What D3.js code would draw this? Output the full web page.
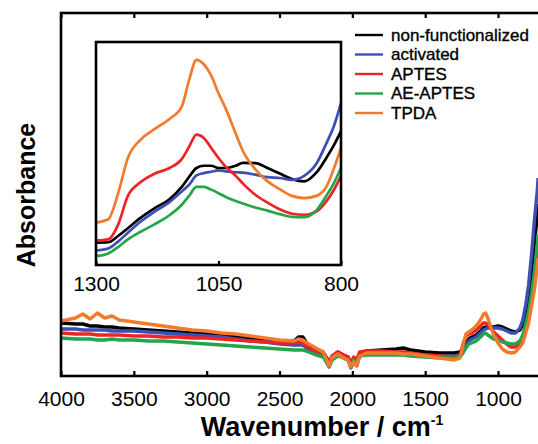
<!DOCTYPE html>
<html>
<head>
<meta charset="utf-8">
<script src="https://cdn.jsdelivr.net/npm/d3@7"></script>
<style>
  html, body { margin: 0; padding: 0; background: #fff; }
  svg { display: block; font-family: "Liberation Sans", Arial, Helvetica, sans-serif; }
</style>
</head>
<body>
<svg id="chart" width="538" height="444"></svg>
<script>
// ---- Series ----
const seriesNames = ["non-functionalized", "activated", "APTES", "AE-APTES", "TPDA"];
const seriesColors = ["#000000", "#3d4fb4", "#ec2524", "#22a64a", "#f47a2b"];

// ---- Full spectrum (absorbance, x10^-3 arbitrary offset) ----
const mainWavenumbers = [4000, 3900, 3850, 3800, 3750, 3700, 3650, 3600, 3500, 3400, 3300, 3200, 3100, 3000,
  2900, 2800, 2700, 2600, 2500, 2400, 2370, 2340, 2300, 2250, 2200, 2160, 2140, 2100, 2060, 2030, 2010, 1990,
  1970, 1950, 1900, 1800, 1700, 1650, 1600, 1500, 1400, 1300, 1260, 1240, 1220, 1200, 1180, 1150, 1120, 1100,
  1085, 1070, 1050, 1030, 1000, 970, 940, 910, 880, 850, 830, 810, 790, 770, 750, 730, 725];

const mainNonFunctionalized = [53, 52, 52, 50, 50, 49, 49, 48, 47, 46, 45, 44, 43, 42,
  41, 39, 38, 37, 35, 35, 39, 39, 30, 27, 24, 14, 19, 24, 21, 19, 12, 18,
  15, 23, 25, 26, 27, 28, 26, 24, 23, 23, 24, 28, 33, 37, 39, 41, 45, 48,
  49, 49, 49, 49, 50, 49, 47, 45, 44, 46, 51, 63, 78, 106, 133, 161, 172];

const mainActivated = [47, 47, 46, 46, 46, 46, 45, 45, 45, 44, 43, 42, 41, 40,
  39, 37, 35, 34, 32, 31, 31, 31, 26, 23, 20, 9, 16, 21, 18, 16, 8, 14,
  10, 20, 22, 23, 23, 23, 22, 21, 20, 20, 21, 25, 30, 35, 37, 39, 43, 46,
  47, 48, 48, 48, 48, 47, 45, 43, 43, 48, 56, 71, 91, 121, 156, 186, 198];

const mainAPTES = [43, 42, 42, 42, 41, 41, 41, 41, 40, 40, 39, 39, 38, 38,
  37, 36, 35, 34, 33, 33, 34, 33, 28, 25, 23, 14, 20, 24, 21, 19, 12, 19,
  16, 24, 25, 25, 24, 24, 23, 21, 20, 19, 21, 32, 40, 42, 43, 46, 50, 53,
  53, 51, 48, 44, 40, 36, 32, 29, 29, 32, 37, 47, 58, 76, 94, 118, 126];

const mainAEAPTES = [38, 37, 37, 37, 36, 36, 37, 36, 36, 35, 35, 34, 33, 32,
  31, 30, 29, 28, 27, 26, 26, 26, 24, 21, 19, 10, 16, 20, 18, 16, 10, 16,
  13, 20, 21, 21, 21, 21, 20, 19, 18, 18, 19, 23, 28, 32, 33, 35, 39, 42,
  43, 41, 39, 37, 36, 34, 33, 32, 32, 35, 41, 52, 65, 83, 104, 133, 142];

const mainTPDA = [55, 58, 62, 57, 63, 58, 60, 56, 54, 52, 50, 48, 46, 45,
  43, 42, 40, 38, 36, 35, 37, 36, 32, 28, 24, 10, 18, 22, 18, 16, 9, 14,
  10, 20, 23, 23, 23, 22, 22, 20, 18, 16, 18, 31, 42, 44, 46, 50, 56, 62,
  63, 58, 49, 41, 33, 27, 24, 23, 24, 29, 33, 43, 53, 70, 86, 111, 118];

const mainTicks = [4000, 3500, 3000, 2500, 2000, 1500, 1000];

// ---- Inset: 1300-800 cm-1 region (normalized absorbance) ----
const insetWavenumbers = [1300, 1275, 1255, 1235, 1210, 1180, 1150, 1125, 1110, 1095, 1080, 1065, 1050,
  1035, 1015, 1000, 975, 950, 925, 900, 875, 850, 830, 815, 800];

const insetNonFunctionalized = [10, 10.2, 13, 16.5, 21, 25.5, 29.5, 35, 39.5, 43.5, 44.5, 44.5, 43.5,
  43.5, 44.5, 45.8, 45.7, 43.5, 41, 38.5, 37.5, 41.5, 48, 53.5, 60];
const insetActivated = [6.5, 7.4, 10.5, 14.5, 19.3, 24, 28.2, 33, 36, 40.2, 41.2, 41.8, 42.4,
  42, 41.6, 41.4, 40.5, 39.4, 39, 38.2, 40, 45.5, 54.5, 62, 72.6];
const insetAPTES = [11, 11.5, 18, 31, 37, 41, 43.5, 47.5, 53, 58.5, 57, 52.5, 48,
  44, 40, 36.5, 31.5, 28, 25, 23, 22.5, 24, 28.5, 33.5, 40];
const insetAEAPTES = [4, 5.2, 8, 11.5, 14.8, 18.3, 22.3, 27, 31, 35, 35, 33.8, 32.2,
  30.5, 28.7, 27.6, 25.8, 24.4, 22.8, 21.6, 21.5, 24.5, 31, 36.5, 43.5];
const insetTPDA = [19, 20.5, 32, 48, 56, 61, 65.5, 71, 83, 92, 90, 85, 77,
  70, 59, 51, 43, 37.5, 34, 31, 30, 31, 35, 43, 52.5];

const insetTicks = [1300, 1050, 800];

const mainSeries = [mainNonFunctionalized, mainActivated, mainAPTES, mainAEAPTES, mainTPDA];
const insetSeries = [insetNonFunctionalized, insetActivated, insetAPTES, insetAEAPTES, insetTPDA];

// ---- Layout ----
const svg = d3.select("#chart");
svg.append("rect").attr("width", 538).attr("height", 444).attr("fill", "#fff");

const plot = { left: 61, right: 549, top: 13, bottom: 376 };
const x = d3.scaleLinear().domain([4000, 650]).range([plot.left, plot.right]);
const y = d3.scaleLinear().domain([0, 363]).range([plot.bottom, plot.top]);

const inset = { left: 96, right: 341, top: 42, bottom: 265 };
const xi = d3.scaleLinear().domain([1300, 800]).range([inset.left, inset.right]);
const yi = d3.scaleLinear().domain([0, 100]).range([inset.bottom, inset.top]);

const defs = svg.append("defs");
defs.append("clipPath").attr("id", "clip-main").append("rect")
  .attr("x", plot.left).attr("y", plot.top)
  .attr("width", plot.right - plot.left).attr("height", plot.bottom - plot.top);
defs.append("clipPath").attr("id", "clip-inset").append("rect")
  .attr("x", inset.left).attr("y", inset.top)
  .attr("width", inset.right - inset.left).attr("height", inset.bottom - inset.top);

// ---- Main spectra ----
const mainLine = d3.line().x((d, i) => x(mainWavenumbers[i])).y(d => y(d));
svg.append("g").attr("clip-path", "url(#clip-main)")
  .selectAll("path").data(mainSeries).join("path")
  .attr("d", mainLine)
  .attr("fill", "none")
  .attr("stroke", (d, i) => seriesColors[i])
  .attr("stroke-width", 3.4)
  .attr("stroke-linejoin", "round");

// ---- Main frame and axes ----
svg.append("rect")
  .attr("x", plot.left).attr("y", plot.top)
  .attr("width", plot.right - plot.left).attr("height", plot.bottom - plot.top)
  .attr("fill", "none").attr("stroke", "#000").attr("stroke-width", 2.6);

const xAxis = svg.append("g").attr("transform", `translate(0,${plot.bottom})`)
  .call(d3.axisBottom(x).tickValues(mainTicks).tickFormat(d3.format("d"))
    .tickSizeInner(-5).tickSizeOuter(0).tickPadding(15));
xAxis.select(".domain").remove();
xAxis.selectAll(".tick line").attr("stroke-width", 2.2);
xAxis.selectAll(".tick text").attr("font-size", 21).attr("fill", "#000")
  .attr("font-family", "'Liberation Sans', Arial, sans-serif");

const xAxisTop = svg.append("g").attr("transform", `translate(0,${plot.top})`)
  .call(d3.axisTop(x).tickValues(mainTicks).tickFormat("").tickSizeInner(-5).tickSizeOuter(0));
xAxisTop.select(".domain").remove();
xAxisTop.selectAll(".tick line").attr("stroke-width", 2.2);

// ---- Inset ----
svg.append("rect")
  .attr("x", inset.left).attr("y", inset.top)
  .attr("width", inset.right - inset.left).attr("height", inset.bottom - inset.top)
  .attr("fill", "#fff");

const insetLine = d3.line().x((d, i) => xi(insetWavenumbers[i])).y(d => yi(d)).curve(d3.curveMonotoneX);
svg.append("g").attr("clip-path", "url(#clip-inset)")
  .selectAll("path").data(insetSeries).join("path")
  .attr("d", insetLine)
  .attr("fill", "none")
  .attr("stroke", (d, i) => seriesColors[i])
  .attr("stroke-width", 2.7)
  .attr("stroke-linejoin", "round");

svg.append("rect")
  .attr("x", inset.left).attr("y", inset.top)
  .attr("width", inset.right - inset.left).attr("height", inset.bottom - inset.top)
  .attr("fill", "none").attr("stroke", "#000").attr("stroke-width", 2.6);

const xiAxis = svg.append("g").attr("transform", `translate(0,${inset.bottom})`)
  .call(d3.axisBottom(xi).tickValues(insetTicks).tickFormat(d3.format("d"))
    .tickSizeInner(-4).tickSizeOuter(0).tickPadding(11));
xiAxis.select(".domain").remove();
xiAxis.selectAll(".tick line").attr("stroke-width", 2.2);
xiAxis.selectAll(".tick text").attr("font-size", 21).attr("fill", "#000")
  .attr("font-family", "'Liberation Sans', Arial, sans-serif");

// ---- Legend ----
const legend = svg.append("g").attr("transform", "translate(355,35)");
const rows = legend.selectAll("g").data(seriesNames).join("g")
  .attr("transform", (d, i) => `translate(0,${i * 19.5})`);
rows.append("line").attr("x1", 0).attr("x2", 28).attr("y1", 0).attr("y2", 0)
  .attr("stroke", (d, i) => seriesColors[i]).attr("stroke-width", 2.4);
rows.append("text").attr("x", 36).attr("y", 0).attr("dy", "0.35em")
  .attr("font-size", 17).attr("fill", "#000")
  .attr("stroke", "#000").attr("stroke-width", 0.35)
  .text(d => d);

// ---- Axis titles ----
const xTitle = svg.append("text")
  .attr("x", 322).attr("y", 436)
  .attr("text-anchor", "middle")
  .attr("font-size", 27).attr("font-weight", "bold").attr("fill", "#000");
xTitle.append("tspan").text("Wavenumber / cm");
xTitle.append("tspan").attr("dy", -11).attr("font-size", 14).text("-1");

svg.append("text")
  .attr("transform", "translate(35,195) rotate(-90)")
  .attr("text-anchor", "middle")
  .attr("font-size", 25).attr("font-weight", "bold").attr("fill", "#000")
  .text("Absorbance");
</script>
</body>
</html>
